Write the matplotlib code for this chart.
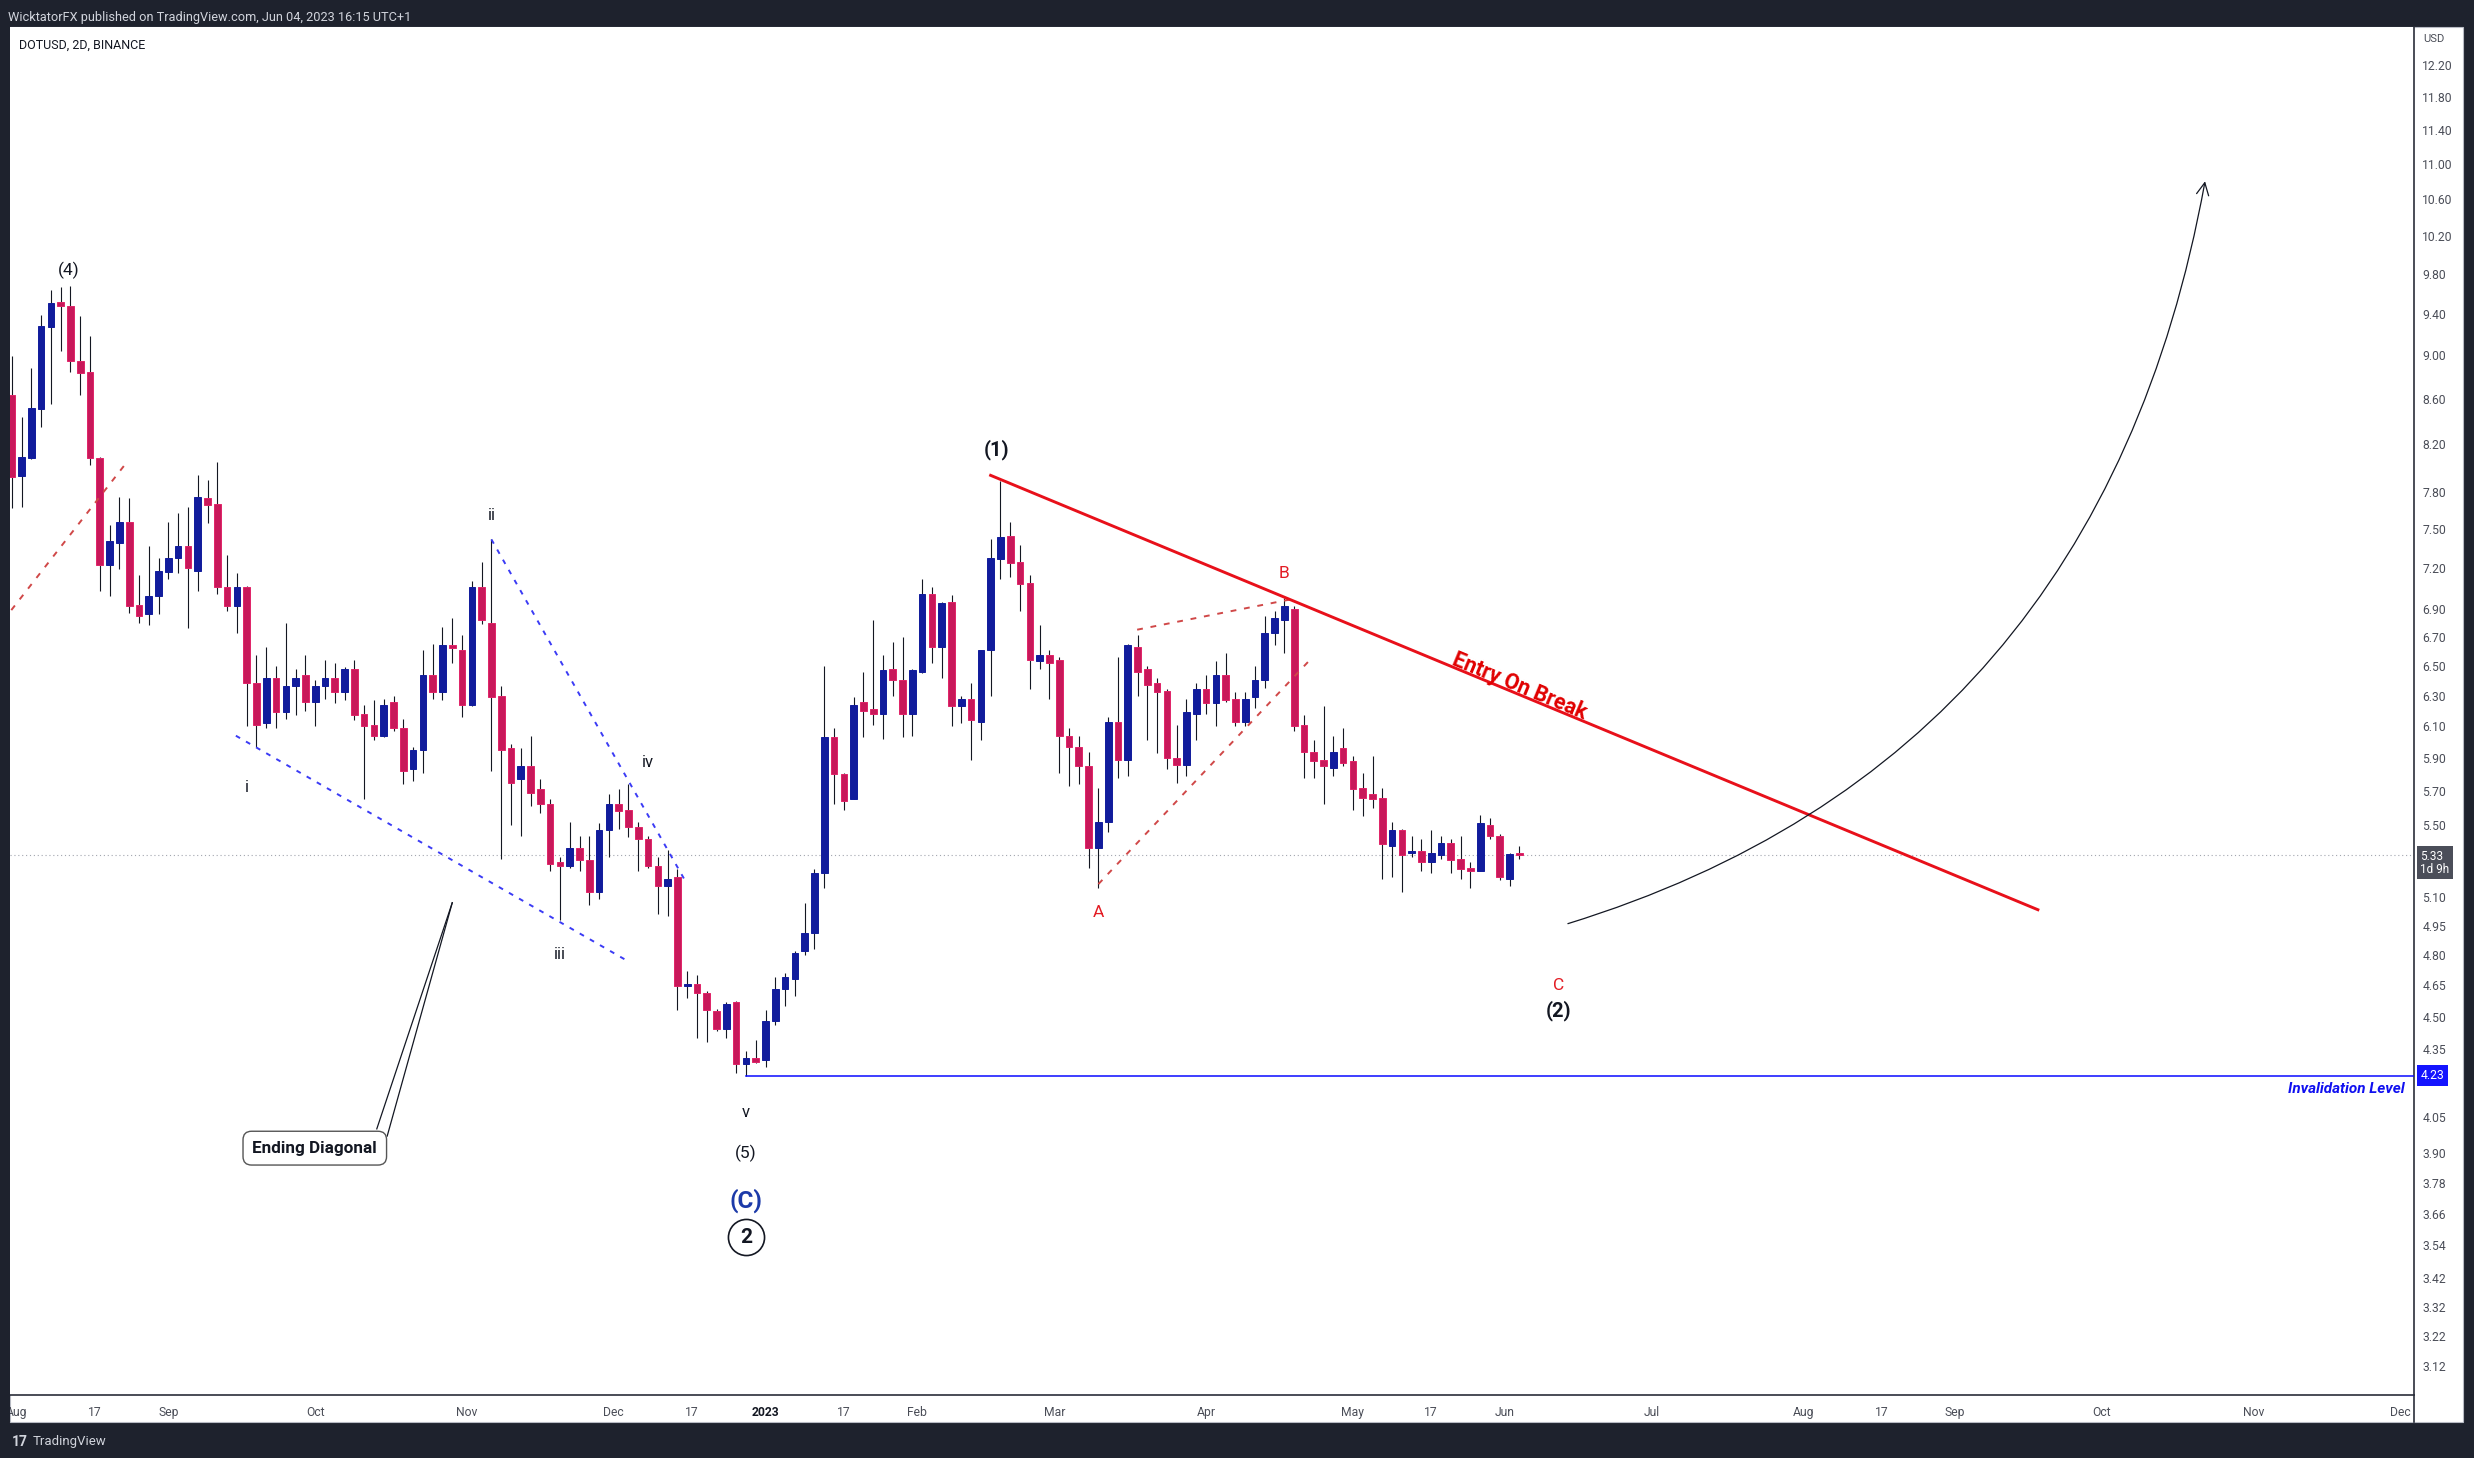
import numpy as np
import pandas as pd
import matplotlib
matplotlib.use('Agg')
import matplotlib.pyplot as plt
import matplotlib.dates as mdates
from matplotlib.path import Path
from matplotlib.patches import FancyArrowPatch, Rectangle
from matplotlib.lines import Line2D
from matplotlib.ticker import FixedLocator, FixedFormatter, NullLocator, NullFormatter
from matplotlib.transforms import blended_transform_factory

plt.rcParams['font.family'] = ['Roboto', 'DejaVu Sans']

# DOTUSD 2D candles (Binance), first bar on 2022-07-31
first_bar = '2022-07-31'

opens = [8.63, 7.93, 8.08, 8.51, 9.27, 9.52, 9.48, 8.95, 8.84, 8.08,
         7.22, 7.39, 7.56, 6.93, 6.86, 6.99, 7.17, 7.28, 7.37, 7.18,
         7.75, 7.70, 7.06, 6.92, 7.06, 6.38, 6.12, 6.42, 6.19, 6.36,
         6.44, 6.26, 6.36, 6.42, 6.32, 6.48, 6.18, 6.11, 6.04, 6.26,
         6.09, 5.83, 5.95, 6.44, 6.32, 6.64, 6.61, 6.24, 7.06, 6.80,
         6.30, 5.96, 5.77, 5.85, 5.71, 5.62, 5.29, 5.27, 5.37, 5.30,
         5.13, 5.47, 5.62, 5.59, 5.49, 5.42, 5.27, 5.16, 5.21, 4.644,
         4.655, 4.61, 4.525, 4.44, 4.57, 4.28, 4.31, 4.30, 4.48, 4.63,
         4.68, 4.82, 4.91, 5.23, 6.03, 5.805, 5.655, 6.26, 6.21, 6.18,
         6.48, 6.40, 6.18, 6.46, 7.01, 6.63, 6.95, 6.23, 6.28, 6.13,
         6.61, 7.27, 7.45, 7.25, 7.09, 6.53, 6.57, 6.54, 6.04, 5.97,
         5.85, 5.37, 5.52, 6.13, 5.89, 6.63, 6.48, 6.38, 6.33, 5.90,
         5.86, 6.18, 6.34, 6.25, 6.44, 6.28, 6.13, 6.29, 6.40, 6.73,
         6.82, 6.90, 6.11, 5.94, 5.89, 5.84, 5.96, 5.88, 5.72, 5.68,
         5.66, 5.38, 5.47, 5.34, 5.35, 5.29, 5.33, 5.40, 5.31, 5.26,
         5.24, 5.50, 5.44, 5.20, 5.34]
highs = [8.99, 8.44, 8.88, 9.39, 9.64, 9.67, 9.68, 9.38, 9.18, 8.09,
         7.53, 7.76, 7.75, 7.15, 7.37, 7.28, 7.56, 7.63, 7.68, 7.94,
         7.90, 8.05, 7.30, 7.16, 7.07, 6.57, 6.63, 6.50, 6.80, 6.48,
         6.57, 6.40, 6.54, 6.52, 6.49, 6.54, 6.24, 6.27, 6.28, 6.30,
         6.15, 5.97, 6.61, 6.65, 6.77, 6.83, 6.71, 7.10, 7.25, 7.42,
         6.36, 5.99, 5.96, 6.04, 5.77, 5.65, 5.32, 5.52, 5.44, 5.44,
         5.51, 5.68, 5.71, 5.74, 5.52, 5.44, 5.32, 5.36, 5.25, 4.72,
         4.70, 4.62, 4.535, 4.57, 4.575, 4.34, 4.39, 4.53, 4.69, 4.71,
         4.82, 5.07, 5.25, 6.50, 6.09, 5.81, 6.29, 6.46, 6.82, 6.57,
         6.66, 6.70, 6.48, 7.12, 7.06, 6.95, 7.00, 6.30, 6.38, 6.61,
         7.42, 7.89, 7.56, 7.38, 7.15, 6.78, 6.61, 6.56, 6.09, 6.04,
         5.94, 5.72, 6.16, 6.56, 6.65, 6.71, 6.50, 6.42, 6.34, 6.11,
         6.28, 6.38, 6.44, 6.53, 6.59, 6.32, 6.32, 6.50, 6.85, 6.88,
         6.98, 6.92, 6.17, 6.01, 6.23, 6.04, 6.09, 5.91, 5.81, 5.91,
         5.72, 5.52, 5.48, 5.44, 5.42, 5.47, 5.44, 5.42, 5.44, 5.29,
         5.56, 5.54, 5.45, 5.34, 5.38]
lows = [7.67, 7.68, 8.07, 8.35, 8.55, 9.04, 8.84, 8.63, 8.02, 7.03,
        6.99, 7.19, 6.87, 6.80, 6.78, 6.86, 7.12, 7.16, 6.76, 7.03,
        7.55, 7.01, 6.88, 6.73, 6.10, 5.97, 6.09, 6.09, 6.15, 6.17,
        6.20, 6.10, 6.28, 6.25, 6.27, 6.14, 5.65, 6.01, 6.03, 6.07,
        5.74, 5.76, 5.81, 6.28, 6.27, 6.52, 6.16, 6.23, 6.79, 5.82,
        5.31, 5.50, 5.44, 5.61, 5.57, 5.24, 4.98, 5.26, 5.24, 5.06,
        5.09, 5.32, 5.48, 5.43, 5.24, 5.26, 5.01, 5.00, 4.53, 4.59,
        4.40, 4.38, 4.43, 4.40, 4.24, 4.23, 4.285, 4.27, 4.46, 4.55,
        4.60, 4.80, 4.83, 5.15, 5.62, 5.59, 5.65, 6.03, 6.11, 6.02,
        6.30, 6.03, 6.04, 6.45, 6.52, 6.42, 6.10, 6.12, 5.89, 6.01,
        6.30, 7.12, 7.13, 6.88, 6.34, 6.48, 6.28, 5.81, 5.73, 5.74,
        5.26, 5.15, 5.46, 5.78, 5.79, 6.30, 6.01, 5.93, 5.83, 5.75,
        5.79, 6.01, 6.18, 6.10, 6.26, 6.10, 6.10, 6.22, 6.35, 6.64,
        6.59, 6.07, 5.78, 5.78, 5.62, 5.79, 5.85, 5.59, 5.55, 5.60,
        5.20, 5.21, 5.13, 5.32, 5.24, 5.23, 5.31, 5.23, 5.20, 5.15,
        5.24, 5.42, 5.19, 5.16, 5.31]
closes = [7.92, 8.09, 8.52, 9.28, 9.51, 9.48, 8.95, 8.83, 8.08, 7.22,
          7.41, 7.56, 6.92, 6.85, 6.99, 7.18, 7.28, 7.37, 7.20, 7.76,
          7.69, 7.06, 6.92, 7.06, 6.38, 6.11, 6.42, 6.19, 6.36, 6.42,
          6.26, 6.36, 6.42, 6.32, 6.48, 6.17, 6.10, 6.04, 6.24, 6.09,
          5.82, 5.95, 6.44, 6.32, 6.64, 6.62, 6.24, 7.06, 6.82, 6.29,
          5.95, 5.75, 5.85, 5.69, 5.62, 5.28, 5.27, 5.37, 5.30, 5.13,
          5.47, 5.62, 5.58, 5.49, 5.42, 5.27, 5.16, 5.20, 4.645, 4.656,
          4.61, 4.53, 4.44, 4.56, 4.28, 4.31, 4.29, 4.48, 4.63, 4.69,
          4.81, 4.91, 5.23, 6.03, 5.80, 5.64, 6.24, 6.20, 6.18, 6.47,
          6.40, 6.18, 6.47, 7.01, 6.63, 6.94, 6.23, 6.28, 6.14, 6.605,
          7.28, 7.44, 7.24, 7.08, 6.54, 6.57, 6.52, 6.04, 5.97, 5.85,
          5.37, 5.52, 6.13, 5.89, 6.64, 6.46, 6.37, 6.32, 5.90, 5.86,
          6.19, 6.34, 6.25, 6.44, 6.27, 6.13, 6.28, 6.40, 6.73, 6.83,
          6.92, 6.10, 5.94, 5.88, 5.85, 5.94, 5.87, 5.71, 5.66, 5.65,
          5.39, 5.47, 5.33, 5.35, 5.29, 5.34, 5.40, 5.30, 5.25, 5.24,
          5.51, 5.44, 5.21, 5.335, 5.33]

# right price scale (log); 5.30 and 4.20 sit under the price labels
price_ticks = [12.20, 11.80, 11.40, 11.00, 10.60, 10.20, 9.80, 9.40, 9.00, 8.60,
               8.20, 7.80, 7.50, 7.20, 6.90, 6.70, 6.50, 6.30, 6.10, 5.90,
               5.70, 5.50, 5.10, 4.95, 4.80, 4.65, 4.50, 4.35,
               4.05, 3.90, 3.78, 3.66, 3.54, 3.42, 3.32, 3.22, 3.12]

time_ticks = ['2022-08-01', '2022-08-17', '2022-09-01', '2022-10-01', '2022-11-01',
              '2022-12-01', '2022-12-17', '2023-01-01', '2023-01-17', '2023-02-01',
              '2023-03-01', '2023-04-01', '2023-05-01', '2023-05-17', '2023-06-01',
              '2023-07-01', '2023-08-01', '2023-08-17', '2023-09-01', '2023-10-01',
              '2023-11-01', '2023-12-01']
time_labels = ['Aug', '17', 'Sep', 'Oct', 'Nov', 'Dec', '17', '2023', '17', 'Feb',
               'Mar', 'Apr', 'May', '17', 'Jun', 'Jul', 'Aug', '17', 'Sep', 'Oct',
               'Nov', 'Dec']

invalidation = 4.23

# drawings
trend_line = [('2023-02-15 17:00', 7.94), ('2023-09-18 05:00', 5.03)]
diag_upper = [('2022-11-06', 7.42), ('2022-12-15 08:00', 5.20)]
diag_lower = [('2022-09-14 19:00', 6.04), ('2022-12-03 19:00', 4.77)]
red_left = [('2022-07-30 22:00', 6.89), ('2022-08-23 19:00', 8.06)]
red_ab = [('2023-03-17 22:00', 6.75), ('2023-04-18 14:00', 6.97)]
red_ac = [('2023-03-10', 5.17), ('2023-04-22 19:00', 6.56)]
curve_pts = [('2023-06-13 22:00', 4.96), ('2023-09-30 14:00', 5.89), ('2023-10-22 02:00', 10.80)]
callout_tip = ('2022-10-29', 5.07)
callout_base = [('2022-10-13 14:00', 4.00), ('2022-10-15 17:00', 3.97)]

BLACK = '#131722'
RED_LBL = '#e31b23'
wave_labels = [
    ('(4)', '2022-08-11 17:00', 9.84, BLACK, 12.5, 'normal'),
    ('i', '2022-09-17', 5.72, BLACK, 12, 'normal'),
    ('ii', '2022-11-06', 7.61, BLACK, 12, 'normal'),
    ('iii', '2022-11-20', 4.80, BLACK, 12, 'normal'),
    ('iv', '2022-12-08', 5.87, BLACK, 12, 'normal'),
    ('v', '2022-12-28', 4.07, BLACK, 12, 'normal'),
    ('(5)', '2022-12-28', 3.90, BLACK, 12.5, 'normal'),
    ('(C)', '2022-12-28', 3.71, '#1c3aa9', 17.5, 'bold'),
    ('(1)', '2023-02-17 07:00', 8.15, BLACK, 14.5, 'bold'),
    ('A', '2023-03-10', 5.02, RED_LBL, 12.5, 'normal'),
    ('B', '2023-04-17', 7.16, RED_LBL, 12.5, 'normal'),
    ('C', '2023-06-12', 4.65, RED_LBL, 12.5, 'normal'),
    ('(2)', '2023-06-12', 4.53, BLACK, 14.5, 'bold'),
]
circle_label = ('2', '2022-12-28', 3.57)
diag_box = ('Ending Diagonal', '2022-09-30 22:00', 3.92)
entry_text = ('Entry On Break', '2023-06-04 00:00', 6.36)


def d(s):
    return mdates.date2num(pd.Timestamp(s))


DARK = '#1e222d'
BLUE_C = '#111c9c'
RED_C = '#c8185a'
W, H = 2474.0, 1458.0

fig = plt.figure(figsize=(24.74, 14.58), dpi=100)
fig.patch.set_facecolor(DARK)

# white chart panel incl. price / time scales
fig.add_artist(Rectangle((10 / W, 1 - 1422 / H), 2453 / W, 1395 / H, transform=fig.transFigure,
                         facecolor='white', edgecolor='#b8bbc4', linewidth=0.8, zorder=-5))

ax = fig.add_axes([10 / W, 1 - 1395 / H, 2404 / W, 1368 / H])
ax.set_facecolor('white')
ax.set_yscale('log')
ax.set_xlim(d('2022-07-30 15:36'), d('2023-12-03 18:30'))
ax.set_ylim(3.0263, 12.696)
ax.set_autoscale_on(False)

# candles
dates = pd.date_range(first_bar, periods=len(opens), freq='2D')
xn = mdates.date2num(dates)
o = np.array(opens)
c = np.array(closes)
up = c >= o
body_lo = np.minimum(o, c)
body_hi = np.maximum(o, c)
face = np.where(up, BLUE_C, RED_C)
edge = np.where(up, BLUE_C, '#e02468')
ax.vlines(xn, lows, highs, color=BLACK, lw=0.8, zorder=2)
ax.bar(xn, body_hi - body_lo, bottom=body_lo, width=1.36, color=face, edgecolor=edge,
       linewidth=0.7, zorder=3)

# last price line
ax.axhline(closes[-1], color='#a3a6af', lw=0.8, ls=(0, (1, 2.5)), zorder=1)

# invalidation level
ax.plot([d('2022-12-28'), ax.get_xlim()[1]], [invalidation, invalidation], color='#0a0aff', lw=1.1, zorder=4)
bl = blended_transform_factory(ax.transAxes, ax.transData)
ax.text(0.9963, 4.17, 'Invalidation Level', transform=bl, ha='right', va='center', color='#1010f0',
        fontsize=11, fontweight='bold', fontstyle='italic', zorder=6)

# ending diagonal (blue dashed)
for ln in (diag_upper, diag_lower):
    ax.plot([d(ln[0][0]), d(ln[1][0])], [ln[0][1], ln[1][1]], color='#3b3bf5', lw=1.4,
            ls=(0, (2.5, 3.5)), zorder=4)

# red dashed channel lines
for ln in (red_left, red_ab, red_ac):
    ax.plot([d(ln[0][0]), d(ln[1][0])], [ln[0][1], ln[1][1]], color='#d04848', lw=1.4,
            ls=(0, (3, 4)), zorder=4)

# entry trend line
tx = [d(trend_line[0][0]), d(trend_line[1][0])]
ty = [trend_line[0][1], trend_line[1][1]]
ax.plot(tx, ty, color='#e8101a', lw=2.1, zorder=5, solid_capstyle='butt')
pa = ax.transData.transform((tx[0], ty[0]))
pb = ax.transData.transform((tx[1], ty[1]))
ang = np.degrees(np.arctan2(pb[1] - pa[1], pb[0] - pa[0]))
ax.text(d(entry_text[1]), entry_text[2], entry_text[0], rotation=ang, rotation_mode='anchor',
        ha='center', va='center', color='#e00000', fontsize=15.5, fontweight='bold', zorder=6)

# projected curve with arrow
verts = [(d(p[0]), p[1]) for p in curve_pts]
curve = Path(verts, [Path.MOVETO, Path.CURVE3, Path.CURVE3])
arrow = FancyArrowPatch(path=curve, arrowstyle='->', mutation_scale=22, color=BLACK, lw=0.9, zorder=5)
ax.add_patch(arrow)

# callout for ending diagonal
for b in callout_base:
    ax.plot([d(callout_tip[0]), d(b[0])], [callout_tip[1], b[1]], color=BLACK, lw=0.9, zorder=5)
ax.text(d(diag_box[1]), diag_box[2], diag_box[0], ha='center', va='center', fontsize=12.3,
        fontweight='bold', color=BLACK, zorder=7,
        bbox=dict(boxstyle='round,pad=0.55,rounding_size=0.5', facecolor='white',
                  edgecolor='#555555', linewidth=1.0))

# wave labels
for txt, dt, pr, col, fs, fw in wave_labels:
    ax.text(d(dt), pr, txt, ha='center', va='center', color=col, fontsize=fs, fontweight=fw, zorder=6)
ax.plot(d(circle_label[1]), circle_label[2], marker='o', ms=26, mfc='white', mec=BLACK, mew=1.2, zorder=6)
ax.text(d(circle_label[1]), circle_label[2], circle_label[0], ha='center', va='center',
        fontsize=15, fontweight='bold', color=BLACK, zorder=7)

# axes styling
for s in ('top', 'left'):
    ax.spines[s].set_visible(False)
for s in ('right', 'bottom'):
    ax.spines[s].set_color('#2a2e39')
    ax.spines[s].set_linewidth(1.2)

ax.yaxis.tick_right()
ax.yaxis.set_major_locator(FixedLocator(price_ticks))
ax.yaxis.set_major_formatter(FixedFormatter([f'{v:.2f}' for v in price_ticks]))
ax.yaxis.set_minor_locator(NullLocator())
ax.yaxis.set_minor_formatter(NullFormatter())
ax.tick_params(axis='y', length=0, pad=6, labelsize=8.7, labelcolor='#4a4d57')

ax.set_xticks([d(t) for t in time_ticks])
ax.set_xticklabels(time_labels)
ax.xaxis.set_minor_locator(NullLocator())
ax.tick_params(axis='x', length=0, pad=8, labelsize=8.7, labelcolor='#4a4d57')
for lab in ax.get_xticklabels():
    if lab.get_text() == '2023':
        lab.set_fontweight('bold')
        lab.set_color(BLACK)

# price labels on the scale
ax.annotate(f'{closes[-1]:.2f}\n1d 9h', xy=(1.0, closes[-1]), xycoords=bl, xytext=(4.5, -5.5),
            textcoords='offset points', ha='left', va='center', fontsize=8.5, color='white',
            linespacing=1.0, annotation_clip=False, zorder=10,
            bbox=dict(boxstyle='square,pad=0.3', facecolor='#4b4e59', edgecolor='none'))
ax.annotate(f'{invalidation:.2f}', xy=(1.0, invalidation), xycoords=bl, xytext=(4.5, 0),
            textcoords='offset points', ha='left', va='center', fontsize=8.7, color='white',
            annotation_clip=False, zorder=10,
            bbox=dict(boxstyle='square,pad=0.3', facecolor='#1414ff', edgecolor='none'))

# frame texts
fig.text(2423 / W, 1 - 39 / H, 'USD', fontsize=8, color='#4a4d57', va='center')
fig.text(8 / W, 1 - 17 / H, 'WicktatorFX published on TradingView.com, Jun 04, 2023 16:15 UTC+1',
         fontsize=9.2, color='#d1d4dc', va='center')
fig.text(19 / W, 1 - 45 / H, 'DOTUSD, 2D, BINANCE', fontsize=9, color=BLACK, va='center')
fig.text(12 / W, 1 - 1442 / H, '17', fontsize=10, fontweight='bold', color='#d1d4dc', va='center')
fig.text(33 / W, 1 - 1442 / H, 'TradingView', fontsize=9.5, color='#d1d4dc', va='center')

fig.add_artist(Line2D([2414 / W, 2414 / W], [1 - 1395 / H, 1 - 1422 / H], transform=fig.transFigure,
                      color='#2a2e39', lw=1.2, zorder=5))
# dark left border over clipped label
fig.add_artist(Rectangle((0, 1 - 1422 / H), 10 / W, 1395 / H, transform=fig.transFigure,
                         facecolor=DARK, edgecolor='none', zorder=20))

fig.savefig('out.png', dpi=100, facecolor=fig.get_facecolor())
